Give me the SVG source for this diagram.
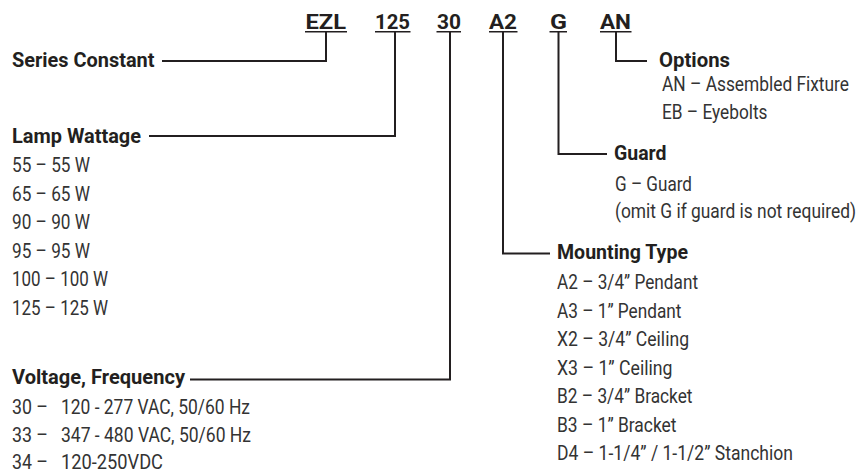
<svg xmlns="http://www.w3.org/2000/svg" width="865" height="471" viewBox="0 0 865 471">
<style>
text{fill:#231f20;font-family:Roboto,"Liberation Sans",Arial,sans-serif}
.h{font-size:21px;font-weight:700}
.c{font-size:19.5px;font-weight:700}
.i{font-size:20px;font-weight:400;fill:#333}
.ln{fill:none;stroke:#231f20;stroke-width:2}
.ul{fill:none;stroke:#231f20;stroke-width:1.6}
</style>
<rect width="865" height="471" fill="#fff"/>
<g id="code">
<text class="c" x="305.5" y="28.5" textLength="40.5" lengthAdjust="spacingAndGlyphs">EZL</text>
<text class="c" x="375" y="28.5" textLength="35" lengthAdjust="spacingAndGlyphs">125</text>
<text class="c" x="437" y="28.5" textLength="24" lengthAdjust="spacingAndGlyphs">30</text>
<text class="c" x="489" y="28.5" textLength="28" lengthAdjust="spacingAndGlyphs">A2</text>
<text class="c" x="550" y="28.5" textLength="17" lengthAdjust="spacingAndGlyphs">G</text>
<text class="c" x="600" y="28.5" textLength="31" lengthAdjust="spacingAndGlyphs">AN</text>
<path class="ul" d="M305 31.7H347M375 31.7H410.5M436.5 31.7H461M489 31.7H517.5M549.5 31.7H567M600 31.7H631.5"/>
</g>
<g id="connectors">
<path class="ln" d="M326 32V61H162"/>
<path class="ln" d="M395 32V136H149"/>
<path class="ln" d="M450 32V379.5H190"/>
<path class="ln" d="M503 32V253.5H550"/>
<path class="ln" d="M558.5 32V154H607"/>
<path class="ln" d="M616 32V61H647"/>
</g>
<g id="series-constant">
<text class="h" x="12" y="67" textLength="142.5" lengthAdjust="spacingAndGlyphs">Series Constant</text>
</g>
<g id="lamp-wattage">
<text class="h" x="12" y="143" textLength="129" lengthAdjust="spacingAndGlyphs">Lamp Wattage</text>
<text class="i" x="12" y="172" textLength="78" lengthAdjust="spacingAndGlyphs">55 – 55 W</text>
<text class="i" x="12" y="200.5" textLength="78" lengthAdjust="spacingAndGlyphs">65 – 65 W</text>
<text class="i" x="12" y="229" textLength="78" lengthAdjust="spacingAndGlyphs">90 – 90 W</text>
<text class="i" x="12" y="257.5" textLength="78" lengthAdjust="spacingAndGlyphs">95 – 95 W</text>
<text class="i" x="12" y="286" textLength="96" lengthAdjust="spacingAndGlyphs">100 – 100 W</text>
<text class="i" x="12" y="314.5" textLength="96" lengthAdjust="spacingAndGlyphs">125 – 125 W</text>
</g>
<g id="voltage-frequency">
<text class="h" x="12" y="383.5" textLength="173" lengthAdjust="spacingAndGlyphs">Voltage, Frequency</text>
<text class="i" x="12" y="413.5" textLength="36" lengthAdjust="spacingAndGlyphs">30 –</text>
<text class="i" x="61" y="413.5" textLength="189" lengthAdjust="spacingAndGlyphs">120 - 277 VAC, 50/60 Hz</text>
<text class="i" x="12" y="442" textLength="36" lengthAdjust="spacingAndGlyphs">33 –</text>
<text class="i" x="61" y="442" textLength="190" lengthAdjust="spacingAndGlyphs">347 - 480 VAC, 50/60 Hz</text>
<text class="i" x="12" y="468.5" textLength="36" lengthAdjust="spacingAndGlyphs">34 –</text>
<text class="i" x="61" y="468.5" textLength="102" lengthAdjust="spacingAndGlyphs">120-250VDC</text>
</g>
<g id="mounting-type">
<text class="h" x="557" y="259" textLength="131" lengthAdjust="spacingAndGlyphs">Mounting Type</text>
<text class="i" x="557" y="289" textLength="141" lengthAdjust="spacingAndGlyphs">A2 – 3/4” Pendant</text>
<text class="i" x="557" y="317.5" textLength="124.5" lengthAdjust="spacingAndGlyphs">A3 – 1” Pendant</text>
<text class="i" x="557" y="346" textLength="132" lengthAdjust="spacingAndGlyphs">X2 – 3/4” Ceiling</text>
<text class="i" x="557" y="374.5" textLength="115.5" lengthAdjust="spacingAndGlyphs">X3 – 1” Ceiling</text>
<text class="i" x="557" y="403" textLength="135.5" lengthAdjust="spacingAndGlyphs">B2 – 3/4” Bracket</text>
<text class="i" x="557" y="431.5" textLength="119.5" lengthAdjust="spacingAndGlyphs">B3 – 1” Bracket</text>
<text class="i" x="557" y="460" textLength="236" lengthAdjust="spacingAndGlyphs">D4 – 1-1/4” / 1-1/2” Stanchion</text>
</g>
<g id="guard">
<text class="h" x="614" y="160" textLength="52.5" lengthAdjust="spacingAndGlyphs">Guard</text>
<text class="i" x="615" y="191" textLength="77" lengthAdjust="spacingAndGlyphs">G – Guard</text>
<text class="i" x="615" y="217.5" textLength="241" lengthAdjust="spacingAndGlyphs">(omit G if guard is not required)</text>
</g>
<g id="options">
<text class="h" x="659" y="67" textLength="71" lengthAdjust="spacingAndGlyphs">Options</text>
<text class="i" x="662" y="91" textLength="187" lengthAdjust="spacingAndGlyphs">AN – Assembled Fixture</text>
<text class="i" x="662" y="119" textLength="105.5" lengthAdjust="spacingAndGlyphs">EB – Eyebolts</text>
</g>
</svg>
